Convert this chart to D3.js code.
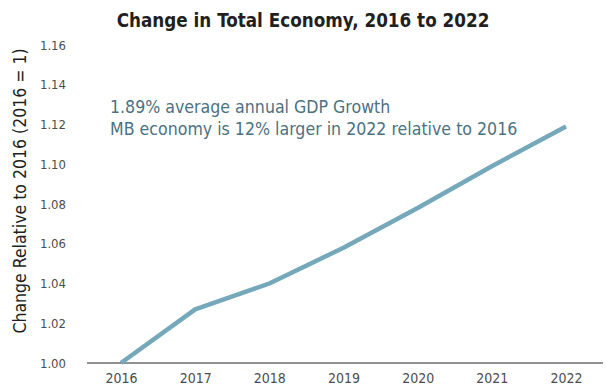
<!DOCTYPE html>
<html>
<head>
<meta charset="utf-8">
<script src="https://cdn.jsdelivr.net/npm/d3@7"></script>
<style>
  body { margin: 0; background: #fff; }
  text { font-family: "Liberation Sans Narrow", "DejaVu Sans Condensed", sans-serif; }
</style>
</head>
<body>
<div id="chart"></div>
<script>
const WIDTH = 606;
const HEIGHT = 388;

const years = [2016, 2017, 2018, 2019, 2020, 2021, 2022];
const index = [1.000, 1.027, 1.040, 1.058, 1.078, 1.099, 1.119];
const yTicks = [1.00, 1.02, 1.04, 1.06, 1.08, 1.10, 1.12, 1.14, 1.16];
const notes = ["1.89% average annual GDP Growth", "MB economy is 12% larger in 2022 relative to 2016"];

let svg = d3.select("#chart")
    .append("svg")
    .attr("width", WIDTH)
    .attr("height", HEIGHT);

let x = d3.scalePoint()
    .domain(years)
    .range([121, 566]);

let y = d3.scaleLinear()
    .domain([1.00, 1.16])
    .range([363, 45]);

// title
svg.append("text")
    .attr("x", 303)
    .attr("y", 27)
    .attr("text-anchor", "middle")
    .style("font-size", "18.7px")
    .style("font-weight", "bold")
    .style("fill", "#231f20")
    .text("Change in Total Economy, 2016 to 2022");

// y axis labels
let yAxis = d3.axisLeft(y)
    .tickValues(yTicks)
    .tickFormat(d3.format(".2f"))
    .tickSize(0)
    .tickPadding(0);

svg.append("g")
    .attr("transform", "translate(66,0)")
    .call(yAxis)
    .call(g => g.select(".domain").remove())
    .selectAll("text")
    .style("font-size", "13px")
    .style("fill", "#4d4d4f");

// x axis
let xAxis = d3.axisBottom(x)
    .tickSize(0)
    .tickPadding(10);

svg.append("g")
    .attr("transform", "translate(0,363)")
    .call(xAxis)
    .call(g => g.select(".domain").remove())
    .selectAll("text")
    .style("font-size", "14px")
    .style("fill", "#4d4d4f");

svg.append("line")
    .attr("x1", 87)
    .attr("x2", 603)
    .attr("y1", y(1.00))
    .attr("y2", y(1.00))
    .style("stroke", "#6d6e71")
    .style("stroke-width", 1.5);

// y axis title
svg.append("text")
    .attr("transform", "translate(26,191) rotate(-90)")
    .attr("text-anchor", "middle")
    .style("font-size", "17.5px")
    .style("fill", "#231f20")
    .text("Change Relative to 2016 (2016 = 1)");

// line
let line = d3.line()
    .x((d, i) => x(years[i]))
    .y(d => y(d));

svg.append("path")
    .datum(index)
    .attr("d", line)
    .style("fill", "none")
    .style("stroke", "#74a8ba")
    .style("stroke-width", 4.5)
    .style("stroke-linejoin", "round");

// annotation
svg.selectAll(".note")
    .data(notes)
    .enter()
    .append("text")
    .attr("class", "note")
    .attr("x", 110)
    .attr("y", (d, i) => 113 + i * 22)
    .style("font-size", "17.6px")
    .style("fill", "#4c7181")
    .text(d => d);
</script>
</body>
</html>
